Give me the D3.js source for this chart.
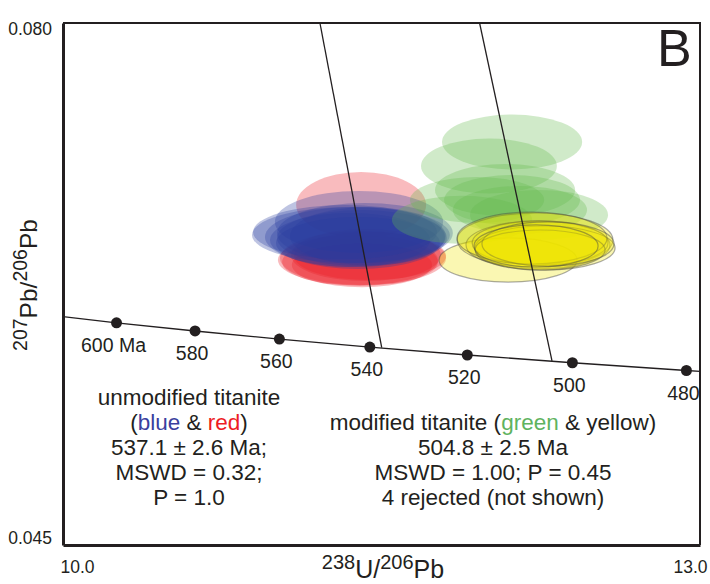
<!DOCTYPE html>
<html>
<head>
<meta charset="utf-8">
<script src="https://cdn.jsdelivr.net/npm/d3@7"></script>
<style>
  body { margin: 0; background: #fff; }
  svg { display: block; font-family: "Liberation Sans", Arial, Helvetica, sans-serif; }
</style>
</head>
<body>
<svg id="chart" width="710" height="584"></svg>
<script>
// ---- Axis extents and tick labels ----
const xDomain = [10.0, 13.0];
const yDomain = [0.045, 0.080];
const xTickValues = [10.0, 13.0];
const xTickLabels = ["10.0", "13.0"];
const yTickValues = [0.045, 0.080];
const yTickLabels = ["0.045", "0.080"];

// ---- Concordia (Tera-Wasserburg), ages in Ma ----
const concordiaAge = [620, 600, 580, 560, 540, 520, 500, 480, 470];
const concordiaX   = [9.905, 10.252, 10.622, 11.019, 11.445, 11.904, 12.399, 12.936, 13.222];
const concordiaY   = [0.06046, 0.05990, 0.05935, 0.05881, 0.05827, 0.05774, 0.05722, 0.05670, 0.05645];
const markerAges   = [600, 580, 560, 540, 520, 500, 480];
const markerLabels = ["600 Ma", "580", "560", "540", "520", "500", "480"];

// ---- Regression (discordia) lines: top of plot to lower intercept ----
const discordiaTopX = [11.210, 11.962];
const discordiaEndX = [11.501, 12.303];
const discordiaEndY = [0.05823, 0.05734];

// ---- Error ellipses: centre (x, y) and half-widths (sx, sy) ----
const redX  = [11.404, 11.413, 11.399, 11.427, 11.389, 11.408, 11.446];
const redY  = [0.06780, 0.06424, 0.06398, 0.06444, 0.06411, 0.06377, 0.06438];
const redSX = [0.306, 0.391, 0.367, 0.353, 0.377, 0.330, 0.358];
const redSY = [0.00221, 0.00181, 0.00161, 0.00174, 0.00168, 0.00148, 0.00161];

const blueX  = [11.356, 11.394, 11.375, 11.408, 11.352, 11.422, 11.389, 11.436, 11.328];
const blueY  = [0.06579, 0.06666, 0.06565, 0.06558, 0.06545, 0.06592, 0.06525, 0.06572, 0.06599];
const blueSX = [0.466, 0.396, 0.424, 0.400, 0.377, 0.414, 0.386, 0.367, 0.433];
const blueSY = [0.00188, 0.00208, 0.00201, 0.00188, 0.00181, 0.00201, 0.00174, 0.00194, 0.00181];

const greenX  = [12.115, 12.006, 11.950, 12.115, 12.152, 12.242, 11.879, 12.082];
const greenY  = [0.07202, 0.07041, 0.06813, 0.06813, 0.06746, 0.06713, 0.06680, 0.06880];
const greenSX = [0.330, 0.320, 0.316, 0.320, 0.316, 0.325, 0.330, 0.330];
const greenSY = [0.00184, 0.00184, 0.00154, 0.00168, 0.00161, 0.00168, 0.00161, 0.00174];

const yellowX  = [12.096, 12.223, 12.237, 12.247, 12.270, 12.209, 12.247, 12.284, 12.228];
const yellowY  = [0.06411, 0.06545, 0.06512, 0.06525, 0.06491, 0.06558, 0.06478, 0.06518, 0.06505];
const yellowSX = [0.325, 0.367, 0.339, 0.320, 0.330, 0.353, 0.306, 0.311, 0.292];
const yellowSY = [0.00148, 0.00181, 0.00161, 0.00148, 0.00148, 0.00174, 0.00134, 0.00148, 0.00141];

// ---- Layout ----
const svg = d3.select("#chart");
const plot = { left: 63, right: 700, top: 23, bottom: 545 };
const x = d3.scaleLinear().domain(xDomain).range([plot.left, plot.right]);
const y = d3.scaleLinear().domain(yDomain).range([plot.bottom, plot.top]);
const ink = "#231f20";

svg.append("defs").append("clipPath").attr("id", "plotClip")
  .append("rect")
  .attr("x", plot.left).attr("y", plot.top)
  .attr("width", plot.right - plot.left).attr("height", plot.bottom - plot.top);

const body = svg.append("g").attr("clip-path", "url(#plotClip)");

// ---- Ellipses ----
function drawEllipses(xs, ys, sxs, sys, fill, opts) {
  const rows = xs.map((v, i) => ({ x: v, y: ys[i], sx: sxs[i], sy: sys[i] }));
  const sel = body.append("g").selectAll("ellipse").data(rows).join("ellipse")
    .attr("cx", d => x(d.x))
    .attr("cy", d => y(d.y))
    .attr("rx", d => x(d.x + d.sx) - x(d.x))
    .attr("ry", d => y(d.y - d.sy) - y(d.y))
    .attr("fill", fill)
    .attr("fill-opacity", opts.opacity);
  if (opts.stroke) {
    sel.attr("stroke", opts.stroke)
       .attr("stroke-opacity", opts.strokeOpacity)
       .attr("stroke-width", opts.strokeWidth);
  } else {
    sel.attr("stroke", "none");
  }
}

drawEllipses(redX, redY, redSX, redSY, "rgb(235,30,40)", { opacity: 0.3 });
drawEllipses(blueX, blueY, blueSX, blueSY, "rgb(40,60,160)", { opacity: 0.3 });
drawEllipses(greenX, greenY, greenSX, greenSY, "rgb(100,185,75)", { opacity: 0.3 });
drawEllipses(yellowX, yellowY, yellowSX, yellowSY, "rgb(240,230,0)",
  { opacity: 0.3, stroke: "#444", strokeOpacity: 0.45, strokeWidth: 1.2 });

// ---- Discordia lines ----
body.append("g").selectAll("line")
  .data(discordiaTopX.map((v, i) => ({ x1: v, y1: yDomain[1], x2: discordiaEndX[i], y2: discordiaEndY[i] })))
  .join("line")
  .attr("x1", d => x(d.x1)).attr("y1", d => y(d.y1))
  .attr("x2", d => x(d.x2)).attr("y2", d => y(d.y2))
  .attr("stroke", ink).attr("stroke-width", 1.3);

// ---- Concordia curve ----
const concordia = concordiaAge.map((a, i) => ({ age: a, x: concordiaX[i], y: concordiaY[i] }));
body.append("path")
  .datum(concordia)
  .attr("fill", "none")
  .attr("stroke", ink)
  .attr("stroke-width", 1.3)
  .attr("d", d3.line().x(d => x(d.x)).y(d => y(d.y)).curve(d3.curveMonotoneX));

const markers = concordia.filter(d => markerAges.includes(d.age));
body.append("g").selectAll("circle").data(markers).join("circle")
  .attr("cx", d => x(d.x)).attr("cy", d => y(d.y)).attr("r", 5.5)
  .attr("fill", ink);

svg.append("g").selectAll("text").data(markers).join("text")
  .attr("x", d => x(d.x) - 3)
  .attr("y", d => y(d.y) + 29)
  .attr("text-anchor", "middle")
  .attr("font-size", 19.5)
  .attr("fill", ink)
  .text((d, i) => markerLabels[i]);

// ---- Axes (frame) ----
const xAxis = svg.append("g")
  .attr("transform", `translate(0,${plot.bottom})`)
  .call(d3.axisBottom(x).tickValues(xTickValues).tickSize(0).tickSizeOuter(0)
    .tickFormat((d, i) => xTickLabels[i]));
xAxis.select(".domain").attr("stroke", ink).attr("stroke-width", 3);
xAxis.selectAll(".tick text")
  .attr("font-size", 17.5).attr("font-family", null).attr("fill", ink)
  .attr("y", 28).attr("dy", null)
  .attr("text-anchor", (d, i) => i === 0 ? "start" : "end")
  .attr("dx", (d, i) => i === 0 ? -3 : 7);

const yAxis = svg.append("g")
  .attr("transform", `translate(${plot.left},0)`)
  .call(d3.axisLeft(y).tickValues(yTickValues).tickSize(0).tickSizeOuter(0)
    .tickFormat((d, i) => yTickLabels[i]));
yAxis.select(".domain").attr("stroke", ink).attr("stroke-width", 3);
yAxis.selectAll(".tick text")
  .attr("font-size", 17.5).attr("font-family", null).attr("fill", ink)
  .attr("x", -11).attr("dy", (d, i) => i === 0 ? -1.5 : 11);

// top and right edges of the frame
svg.append("line").attr("x1", plot.left).attr("x2", plot.right + 1)
  .attr("y1", plot.top).attr("y2", plot.top)
  .attr("stroke", ink).attr("stroke-width", 2);
svg.append("line").attr("x1", plot.right).attr("x2", plot.right)
  .attr("y1", plot.top).attr("y2", plot.bottom)
  .attr("stroke", ink).attr("stroke-width", 2);

// ---- Axis titles with raised mass numbers ----
function isotopeTitle(sel, parts, supSize, baseSize) {
  parts.forEach(p => {
    sel.append("tspan")
      .attr("font-size", p.sup ? supSize : baseSize)
      .attr("dy", p.dy)
      .text(p.t);
  });
}
const xTitle = svg.append("text")
  .attr("x", 383).attr("y", 578)
  .attr("text-anchor", "middle").attr("fill", ink);
isotopeTitle(xTitle, [
  { t: "238", sup: true, dy: -9 }, { t: "U/", sup: false, dy: 9 },
  { t: "206", sup: true, dy: -9 }, { t: "Pb", sup: false, dy: 9 }
], 20, 25);

const yTitle = svg.append("text")
  .attr("transform", "translate(37,285) rotate(-90)")
  .attr("text-anchor", "middle").attr("fill", ink);
isotopeTitle(yTitle, [
  { t: "207", sup: true, dy: -10 }, { t: "Pb/", sup: false, dy: 10 },
  { t: "206", sup: true, dy: -10 }, { t: "Pb", sup: false, dy: 10 }
], 19.5, 24.5);

// ---- Panel letter ----
svg.append("text").attr("x", 657).attr("y", 66)
  .attr("font-size", 52).attr("fill", ink).text("B");

// ---- Age annotations ----
const blue = "#3b3f9e", red = "#ed1c24", green = "#5fb35f";
const leftLines = [
  [["unmodified titanite", ink]],
  [["(", ink], ["blue", blue], [" & ", ink], ["red", red], [")", ink]],
  [["537.1 \u00b1 2.6 Ma;", ink]],
  [["MSWD = 0.32;", ink]],
  [["P = 1.0", ink]]
];
const rightLines = [
  [["modified titanite (", ink], ["green", green], [" & yellow)", ink]],
  [["504.8 \u00b1 2.5 Ma", ink]],
  [["MSWD = 1.00; P = 0.45", ink]],
  [["4 rejected (not shown)", ink]]
];
function block(lines, cx, y0) {
  lines.forEach((parts, i) => {
    const t = svg.append("text")
      .attr("x", cx).attr("y", y0 + i * 25)
      .attr("text-anchor", "middle")
      .attr("font-size", 22.5);
    parts.forEach(([s, c]) => t.append("tspan").attr("fill", c).text(s));
  });
}
block(leftLines, 189, 405);
block(rightLines, 493, 430);
</script>
</body>
</html>
